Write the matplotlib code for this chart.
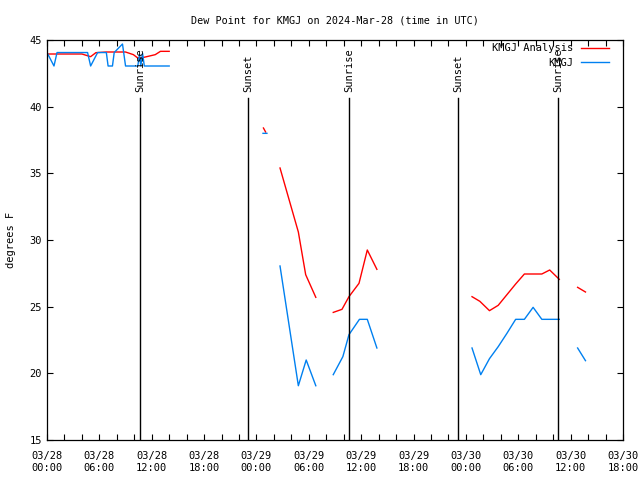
import matplotlib
matplotlib.use("Agg")
import matplotlib.pyplot as plt
import numpy as np

plt.rcParams['font.family'] = ['DejaVu Sans Mono']

nan = np.nan

# hours since 2024-03-28 00:00 UTC, NaN breaks the line where data is missing
analysis_hours = [0, 1, 2, 3, 4, 5, 5.6, 6.8, 8, 9, 9.9, 10.4, 11.1, 12.4, 13, 14, nan,
                  24.8, 25.05, nan,
                  26.7, 28.8, 29.64, 30.8, nan,
                  32.8, 33.8, 34.6, 35.75, 36.7, 37.8, nan,
                  48.7, 49.6, 50.7, 51.7, 52.7, 53.7, 54.7, 55.7, 56.7, 57.6, 58.7, nan,
                  60.8, 61.7]
analysis_dewp = [43.95, 43.95, 43.95, 43.95, 43.95, 43.75, 44.05, 44.1, 44.1, 44.1, 43.9, 43.65, 43.7, 43.9, 44.15, 44.15, nan,
                 38.4, 38.1, nan,
                 35.4, 30.6, 27.4, 25.7, nan,
                 24.57, 24.8, 25.75, 26.75, 29.25, 27.8, nan,
                 25.75, 25.4, 24.7, 25.1, 25.9, 26.7, 27.45, 27.45, 27.45, 27.75, 27.05, nan,
                 26.45, 26.1]

obs_hours = [0, 0.8, 1.15, 4.65, 5.0, 5.8, 6.8, 7.0, 7.5, 7.7, 8.65, 9.0, 10.4, 10.6, 10.75, 10.95, 11.15, 14, nan,
             24.75, 25.2, nan,
             26.7, 28.8, 29.7, 30.8, nan,
             32.8, 33.9, 34.6, 35.8, 36.7, 37.8, nan,
             48.7, 49.7, 50.7, 51.7, 52.7, 53.7, 54.7, 55.7, 56.7, 57.7, 58.7, nan,
             60.8, 61.7]
obs_dewp = [44.06, 43.05, 44.06, 44.06, 43.05, 44.06, 44.06, 43.05, 43.05, 44.06, 44.7, 43.05, 43.05, 43.9, 43.05, 44.0, 43.05, 43.05, nan,
            38.0, 38.0, nan,
            28.05, 19.07, 21.0, 19.07, nan,
            19.9, 21.25, 22.9, 24.05, 24.05, 21.9, nan,
            21.9, 19.9, 21.1, 22.0, 23.0, 24.05, 24.05, 24.95, 24.05, 24.05, 24.05, nan,
            21.9, 20.95]

sun_hours = [10.66, 23.03, 34.6, 47.1, 58.55]
sun_labels = ["Sunrise", "Sunset", "Sunrise", "Sunset", "Sunrise"]

tick_hours = list(range(0, 67, 6))
tick_labels = ["03/28\n00:00", "03/28\n06:00", "03/28\n12:00", "03/28\n18:00",
               "03/29\n00:00", "03/29\n06:00", "03/29\n12:00", "03/29\n18:00",
               "03/30\n00:00", "03/30\n06:00", "03/30\n12:00", "03/30\n18:00"]

fig = plt.figure(figsize=(6.4, 4.8), dpi=100, facecolor='white')
ax = fig.add_axes([47/640, 40/480, 576/640, 400/480])

ax.plot(analysis_hours, analysis_dewp, color='#ff0000', lw=1.0, label='KMGJ Analysis')
ax.plot(obs_hours, obs_dewp, color='#0080f0', lw=1.0, label='KMGJ')

for t, lab in zip(sun_hours, sun_labels):
    ax.plot([t, t], [15, 40.65], color='black', lw=1.0)
    ax.text(t, 41.1, lab, rotation=90, ha='center', va='bottom', fontsize=7.5)

ax.set_xlim(0, 66)
ax.set_ylim(15, 45)
ax.set_xticks(tick_hours)
ax.set_xticklabels(tick_labels, fontsize=7.5)
ax.set_xticks(range(0, 67, 2), minor=True)
ax.set_yticks(range(15, 46, 5))
ax.tick_params(axis='y', labelsize=7.5)
ax.tick_params(axis='x', which='major', pad=8)
ax.tick_params(which='both', direction='in', top=True, right=True, length=4, width=0.8)
for s in ax.spines.values():
    s.set_linewidth(0.9)

ax.set_ylabel("degrees F", fontsize=7.5, labelpad=10)
ax.set_title("Dew Point for KMGJ on 2024-Mar-28 (time in UTC)", fontsize=7.3, pad=12)

ax.legend(loc='upper right', frameon=False, markerfirst=False, fontsize=7.5,
          handlelength=2.7, handletextpad=0.7, labelspacing=0.45,
          borderaxespad=0.1, borderpad=0.1, bbox_to_anchor=(0.979, 0.997))

fig.savefig("out.png", dpi=100, facecolor='white')
